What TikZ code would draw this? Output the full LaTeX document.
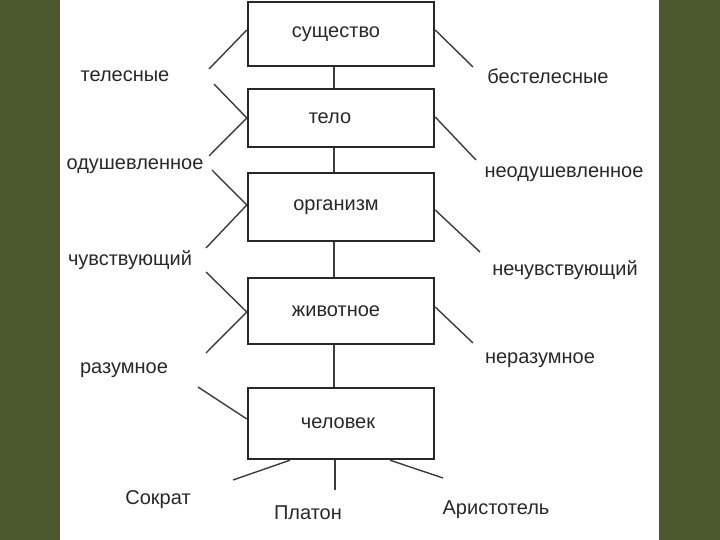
\documentclass[tikz,border=0pt]{standalone}
\usepackage{fontspec}
\setmainfont{Liberation Sans}
\definecolor{bggreen}{RGB}{76,89,46}
\definecolor{ink}{RGB}{40,40,40}
\definecolor{wire}{RGB}{60,60,60}
\begin{document}
\begin{tikzpicture}[x=1pt,y=-1pt,
  cls/.style={draw=ink,line width=2.4pt,fill=white,minimum width=186pt,inner sep=0pt,
    font=\fontsize{20}{23}\selectfont,text=ink},
  lbl/.style={inner sep=0pt,font=\fontsize{20}{23}\selectfont,text=ink},
  wireline/.style={draw=wire,line width=1.4pt},
  trunk/.style={draw=wire,line width=1.8pt}]
\useasboundingbox (0,0) rectangle (720,540);
\fill[bggreen] (0,0) rectangle (720,540);
\fill[white] (60,0) rectangle (659,540);
% class boxes
\node[cls,minimum height=64pt] (b1) at (341,34) {существо\hspace*{10pt}};
\node[cls,minimum height=58pt] (b2) at (341,118) {тело\hspace*{22pt}};
\node[cls,minimum height=68pt] (b3) at (341,207) {организм\hspace*{10pt}};
\node[cls,minimum height=66pt] (b4) at (341,311) {животное\hspace*{10pt}};
\node[cls,minimum height=71pt] (b5) at (341,423.5) {человек\hspace*{6pt}};
% labels
\node[lbl] (tel) at (125,76) {телесные};
\node[lbl] (btel) at (548,76) {бестелесные};
\node[lbl] (odu) at (135,166) {одушевленное};
\node[lbl] (nodu) at (564,174) {неодушевленное};
\node[lbl] (chu) at (130,260) {чувствующий};
\node[lbl] (nchu) at (565,270) {нечувствующий};
\node[lbl] (raz) at (124,370) {разумное};
\node[lbl] (nraz) at (540,360) {неразумное};
\node[lbl] (sok) at (158,500) {Сократ};
\node[lbl] (pla) at (308,513) {Платон};
\node[lbl] (ari) at (496,510) {Аристотель};
% free ends
\coordinate (c1) at (209,69);
\coordinate (c2) at (214,84);
\coordinate (c3) at (209,156);
\coordinate (c4) at (212,170);
\coordinate (c5) at (206,248);
\coordinate (c6) at (206,272);
\coordinate (c7) at (206,353);
\coordinate (c8) at (198,387);
\coordinate (c9) at (233,480);
\coordinate (c10) at (443,478);
\coordinate (r1) at (473,67);
\coordinate (r2) at (476,160);
\coordinate (r3) at (480,252);
\coordinate (r4) at (473,343);
\coordinate (pl) at (335,490);
% trunk
\draw[trunk] ([xshift=-7pt]b1.south) -- ([xshift=-7pt]b2.north);
\draw[trunk] ([xshift=-7pt]b2.south) -- ([xshift=-7pt]b3.north);
\draw[trunk] ([xshift=-7pt]b3.south) -- ([xshift=-7pt]b4.north);
\draw[trunk] ([xshift=-7pt]b4.south) -- ([xshift=-7pt]b5.north);
\draw[trunk] ([xshift=-6pt]b5.south) -- (pl);
% left connectors
\draw[wireline] ([yshift=4pt]b1.west) -- (c1);
\draw[wireline] (c2) -- (b2.west);
\draw[wireline] (c3) -- (b2.west);
\draw[wireline] (c4) -- ([yshift=2pt]b3.west);
\draw[wireline] ([yshift=2pt]b3.west) -- (c5);
\draw[wireline] (c6) -- ([yshift=-1pt]b4.west);
\draw[wireline] ([yshift=-1pt]b4.west) -- (c7);
\draw[wireline] (c8) -- ([yshift=4.5pt]b5.west);
% right connectors
\draw[wireline] ([yshift=4pt]b1.east) -- (r1);
\draw[wireline] ([yshift=1pt]b2.east) -- (r2);
\draw[wireline] ([yshift=-3pt]b3.east) -- (r3);
\draw[wireline] ([yshift=4pt]b4.east) -- (r4);
% instances
\draw[wireline] ([xshift=-51pt]b5.south) -- (c9);
\draw[wireline] ([xshift=49pt]b5.south) -- (c10);
\end{tikzpicture}
\end{document}
